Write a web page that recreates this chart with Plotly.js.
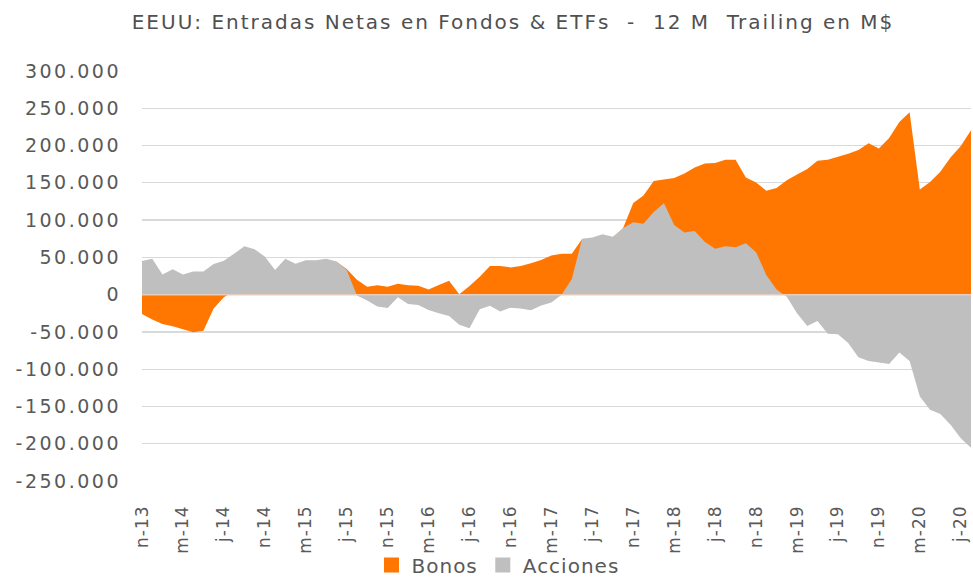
<!DOCTYPE html>
<html>
<head>
<meta charset="utf-8">
<script src="https://cdn.plot.ly/plotly-3.0.1.min.js"></script>
<style>
  html, body { margin: 0; padding: 0; background: #ffffff; }
  #chart { width: 973px; height: 580px; }
  .gtitle { letter-spacing: 2px; }
  .ytick text { letter-spacing: 2.5px; }
  .xtick text { letter-spacing: 1px; }
  .legendtext { letter-spacing: 1px; }
</style>
</head>
<body>
<div id="chart"></div>
<script>
const months = [
  "nov-13","dic-13",
  "ene-14","feb-14","mar-14","abr-14","may-14","jun-14","jul-14","ago-14","sep-14","oct-14","nov-14","dic-14",
  "ene-15","feb-15","mar-15","abr-15","may-15","jun-15","jul-15","ago-15","sep-15","oct-15","nov-15","dic-15",
  "ene-16","feb-16","mar-16","abr-16","may-16","jun-16","jul-16","ago-16","sep-16","oct-16","nov-16","dic-16",
  "ene-17","feb-17","mar-17","abr-17","may-17","jun-17","jul-17","ago-17","sep-17","oct-17","nov-17","dic-17",
  "ene-18","feb-18","mar-18","abr-18","may-18","jun-18","jul-18","ago-18","sep-18","oct-18","nov-18","dic-18",
  "ene-19","feb-19","mar-19","abr-19","may-19","jun-19","jul-19","ago-19","sep-19","oct-19","nov-19","dic-19",
  "ene-20","feb-20","mar-20","abr-20","may-20","jun-20","jul-20","ago-20"
];

const bonos = [
  -26000,-33500,
  -39500,-42500,-46500,-50500,-48500,-18500,-3500,5000,10000,14000,18000,22000,
  26000,30000,34000,38000,42000,44000,34500,20000,10500,12500,10500,14500,
  12500,12000,7000,13000,18500,500,11500,24000,38500,38500,36500,38500,
  42000,46500,52500,55000,55000,74500,74000,78000,76000,89000,123000,133000,
  152500,154500,156500,162500,170500,176000,176500,181000,181000,157000,150500,139500,
  143000,153500,161000,168500,179500,181000,185000,189000,194000,203000,196000,210000,
  231500,244500,141000,151000,165000,184000,199500,220500
];

const acciones = [
  45000,48000,
  27000,34000,27000,31000,31000,41000,45500,55000,65000,61000,51000,33000,
  48000,41500,46000,46000,48000,44500,33000,-1000,-8000,-16000,-18000,-3500,
  -12500,-14000,-20500,-25000,-28500,-40500,-45000,-19500,-15000,-22500,-17500,-18500,
  -21000,-14500,-10500,0,21000,75000,76500,81000,77500,89000,97000,95000,
  111000,122500,93500,83500,85500,70500,61500,65000,63500,69000,57000,26500,
  7000,-3000,-25000,-42000,-35500,-52500,-53000,-65000,-84000,-89000,-91000,-93000,
  -77500,-89000,-136500,-154500,-160000,-174500,-192500,-205500
];

const seriesNames = ["Bonos", "Acciones"];
const seriesColors = ["#FF7700", "#BFBFBF"];

const xTickVals = ["nov-13","mar-14","jul-14","nov-14","mar-15","jul-15","nov-15","mar-16","jul-16","nov-16","mar-17","jul-17","nov-17","mar-18","jul-18","nov-18","mar-19","jul-19","nov-19","mar-20","jul-20"];
const xTickText = ["n-13","m-14","j-14","n-14","m-15","j-15","n-15","m-16","j-16","n-16","m-17","j-17","n-17","m-18","j-18","n-18","m-19","j-19","n-19","m-20","j-20"];

const yTickVals = [300000,250000,200000,150000,100000,50000,0,-50000,-100000,-150000,-200000,-250000];
const yTickText = ["300.000","250.000","200.000","150.000","100.000","50.000","0","-50.000","-100.000","-150.000","-200.000","-250.000"];

const FONT = "DejaVu Sans, Verdana, sans-serif";
const TXT = "#595959";

const seriesData = [bonos, acciones];
const traces = [];
seriesData.forEach(function (vals, k) {
  traces.push({
    type: "scatter", mode: "none", name: seriesNames[k],
    x: months, y: vals, fill: "tozeroy", fillcolor: seriesColors[k],
    showlegend: false, hoverinfo: "x+y"
  });
});
// legend entries with square keys
seriesData.forEach(function (vals, k) {
  traces.push({
    type: "scatter", mode: "markers", name: seriesNames[k],
    x: [null], y: [null],
    marker: { symbol: "square", size: 15, color: seriesColors[k] },
    showlegend: true, hoverinfo: "skip"
  });
});

const layout = {
  width: 973, height: 580,
  margin: { l: 142, r: 2, t: 71, b: 99, pad: 0 },
  paper_bgcolor: "#ffffff", plot_bgcolor: "#ffffff",
  font: { family: FONT, color: TXT },
  title: {
    text: "EEUU: Entradas Netas en Fondos & ETFs  -  12 M  Trailing en M$",
    font: { family: FONT, size: 20, color: "#505050" },
    x: 513/973, xanchor: "center", xref: "container",
    y: 1 - 22/580, yanchor: "middle", yref: "container"
  },
  xaxis: {
    type: "category",
    range: [0, months.length - 1],
    tickmode: "array", tickvals: xTickVals, ticktext: xTickText,
    tickangle: -90, ticks: "", ticklabelstandoff: 20,
    tickfont: { family: FONT, size: 17, color: TXT },
    showgrid: false, zeroline: false, showline: false,
    fixedrange: true
  },
  yaxis: {
    range: [-250000, 300000],
    tickmode: "array", tickvals: yTickVals, ticktext: yTickText,
    ticks: "", ticklabelstandoff: 20,
    tickfont: { family: FONT, size: 19, color: TXT },
    showgrid: true, gridcolor: "#D9D9D9", gridwidth: 1.3,
    zeroline: false, showline: false, fixedrange: true
  },
  shapes: [{
    type: "line", xref: "paper", x0: 0, x1: 1, yref: "y", y0: 0, y1: 0,
    line: { color: "#E6CDBD", width: 1.5 }, layer: "above"
  }],
  showlegend: true,
  legend: {
    orientation: "h", x: 498/973, xanchor: "center", xref: "container",
    y: 1 - 565/580, yanchor: "middle", yref: "container",
    font: { family: FONT, size: 20, color: TXT },
    itemwidth: 30, traceorder: "normal", tracegroupgap: 0,
    bgcolor: "rgba(0,0,0,0)"
  }
};

Plotly.newPlot("chart", traces, layout, { displayModeBar: false, staticPlot: true });
</script>
</body>
</html>
